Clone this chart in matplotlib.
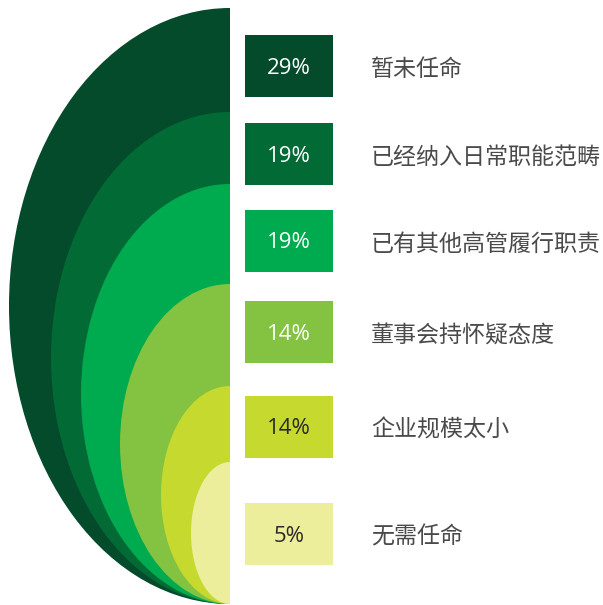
import matplotlib.pyplot as plt
from matplotlib.patches import Ellipse, Rectangle

plt.rcParams['font.family'] = ['Open Sans', 'Noto Sans CJK SC', 'DejaVu Sans']

# data
labels = ['暂未任命', '已经纳入日常职能范畴', '已有其他高管履行职责',
          '董事会持怀疑态度', '企业规模太小', '无需任命']
values = [29, 19, 19, 14, 14, 5]
colors = ['#034b2b', '#016a35', '#00aa4e', '#84c341', '#c6d92f', '#ecee9b']
text_colors = ['white', 'white', 'white', 'white', '#2a2a2a', '#2a2a2a']

# layout (pixels): half-ellipse sizes, outermost first
half_h = [298, 246, 210, 160, 109, 71]
half_w = [221, 179, 149, 110, 69, 39]
box_cy = [66, 154, 241, 332, 427, 534]
cx, bottom = 230, 604

fig = plt.figure(figsize=(6.03, 6.05), dpi=100)
ax = fig.add_axes([0, 0, 1, 1])
ax.set_xlim(0, 603)
ax.set_ylim(605, 0)
ax.axis('off')

clip = Rectangle((0, 0), cx, 605, transform=ax.transData)
for hh, hw, c in zip(half_h, half_w, colors):
    e = Ellipse((cx, bottom - hh), 2 * hw, 2 * hh, facecolor=c, edgecolor='none')
    ax.add_patch(e)
    e.set_clip_path(clip)

for lab, v, c, tc, cy in zip(labels, values, colors, text_colors, box_cy):
    ax.add_patch(Rectangle((245, cy - 31), 88, 62, facecolor=c, edgecolor='none'))
    ax.text(289, cy + 2, f'{v}%', color=tc, fontsize=16, ha='center', va='center')
    ax.text(371, cy + 3, lab, color='#4a4a4a', fontsize=16.6, ha='left', va='center',
            family=['Noto Sans CJK SC', 'DejaVu Sans'])

fig.savefig('out.png', dpi=100)
